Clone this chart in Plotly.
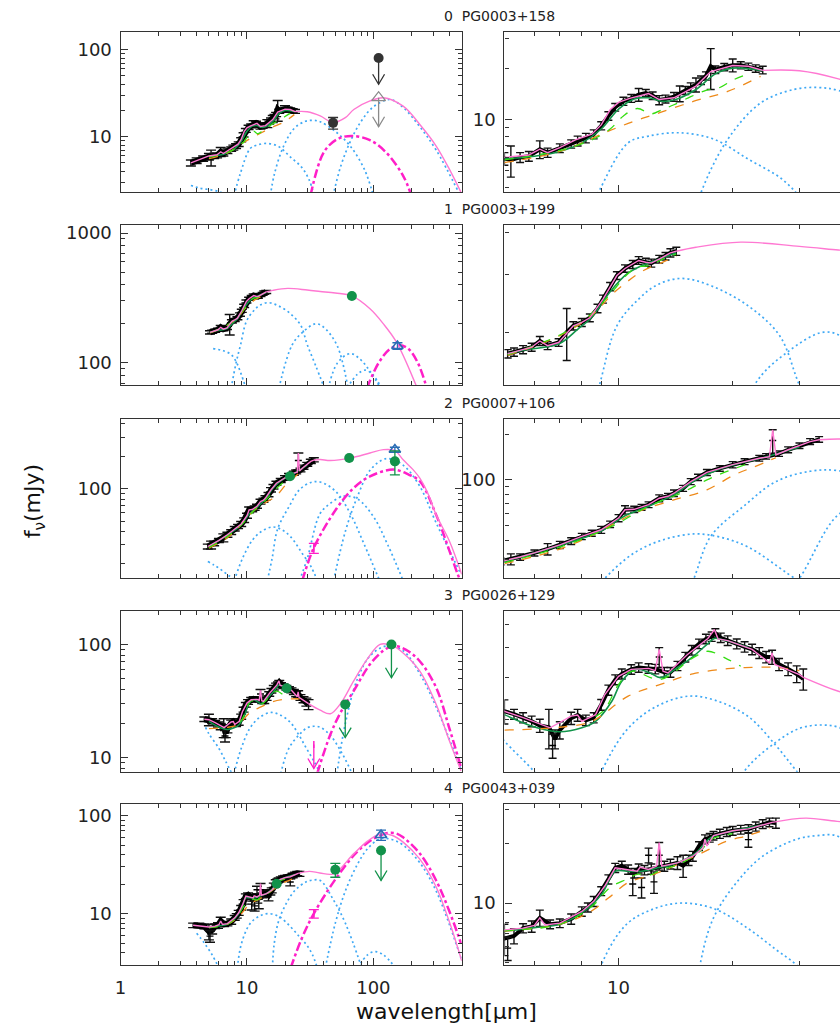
import plotly.graph_objects as go

# ------------------------------------------------------------------ data
titles = ["0  PG0003+158", "1  PG0003+199", "2  PG0007+106", "3  PG0026+129", "4  PG0043+039"]

# ---- object 0 : PG0003+158
spec0_wl = [3.6, 4.0, 4.5, 5.0, 5.2, 5.5, 5.8, 6.2, 6.5, 7.0, 7.5, 7.8, 8.2, 8.6, 9.0, 9.4, 9.8, 10.3, 10.8, 11.3,
            11.8, 12.3, 12.8, 13.3, 14.0, 14.5, 15.0, 15.5, 16.0, 16.5, 17.0, 17.5, 18.0, 19.0, 20.0, 21.0, 22.0, 23.0, 24.0]
spec0_f = [5.0, 5.3, 5.6, 5.9, 5.8, 6.0, 6.1, 6.7, 6.4, 6.8, 7.2, 7.5, 7.8, 8.2, 9.2, 10.5, 11.8, 12.8, 13.3, 14.0,
           14.3, 13.8, 13.0, 13.2, 13.6, 14.2, 14.8, 15.5, 16.0, 17.0, 18.0, 20.5, 19.6, 20.3, 20.8, 20.8, 20.4, 19.9, 19.5]
spec0_err = [0.4, 0.4, 0.4, 0.5, 1.2, 0.4, 0.4, 0.8, 0.4, 0.4, 0.4, 0.5, 0.5, 0.5, 0.5, 0.6, 0.6, 0.7, 0.7, 1.2,
             0.7, 0.7, 0.8, 0.7, 0.8, 1.5, 0.8, 0.9, 1.5, 1.0, 1.0, 5.5, 1.0, 1.0, 1.8, 1.0, 1.0, 1.0, 1.0]
spike0 = ([], [], [])
model0_wl = [3.6, 4.5, 5.0, 5.8, 6.2, 6.5, 7.0, 7.7, 8.5, 9.0, 9.5, 10.0, 10.7, 12.0, 12.8, 14.0, 16.0, 17.5, 20.0,
             22.0, 24.0, 30.0, 38.0, 48.0, 60.0, 70.0, 94.0, 120.0, 172.0, 233.0, 314.0, 400.0, 500.0]
model0_f = [5.0, 5.6, 6.0, 6.2, 6.7, 6.4, 6.84, 7.6, 8.2, 9.3, 11.4, 12.6, 13.3, 14.2, 13.1, 13.4, 15.7, 19.1, 20.7,
            20.5, 19.4, 19.3, 17.3, 14.5, 16.5, 20.5, 25.7, 28.0, 22.4, 13.8, 7.8, 4.2, 2.2]
cont0 = ([5, 7, 9.4, 11.0, 12.9, 15.8, 19.4, 23.7], [5.6, 6.5, 8.55, 9.78, 11.0, 12.8, 14.6, 17.9])
pah0 = ([5, 7, 8.5, 9.5, 10.3, 11.2, 12.2, 13.0, 14, 15.5, 17, 18.5, 20, 22],
        [5.8, 6.6, 7.6, 8.8, 10.5, 11.6, 10.8, 11.4, 12.2, 13.6, 14.8, 15.4, 17.0, 18.5])
fit0 = ([5, 6, 7, 8, 9, 10, 11, 12, 13, 14, 16, 18, 20, 24],
        [5.9, 6.1, 6.5, 7.3, 8.8, 11.5, 13.2, 13.4, 12.8, 13.0, 15.0, 18.5, 20.0, 19.3])
bb0a = ([3.6, 4.3, 5.2, 6.2, 7.0], [2.75, 2.55, 2.45, 2.3, 2.1])
bb0b = ([7.9, 8.85, 10.6, 12, 14.5, 17.9, 22, 27, 31, 34], [2.1, 3.74, 7.3, 8.0, 8.36, 7.65, 5.85, 4.47, 3.2, 2.1])
bb0c = ([15.3, 16.5, 19.4, 23.7, 29, 33.5, 38, 50, 65.6, 85, 100],
        [2.1, 3.74, 7.65, 12.5, 15, 15.4, 14.8, 11.5, 7.8, 4.2, 2.1])
bb0d = ([48, 55, 65, 80, 100, 135, 170, 233, 314, 480], [2.1, 4.5, 8.5, 15, 22, 26.7, 22, 13, 7.0, 2.2])
sb0 = ([31.8, 40.5, 51.5, 67, 94, 126, 172, 200], [2.1, 6.6, 9.3, 10.2, 9.1, 6.6, 3.55, 2.1])
phot0_wl = [48, 110, 110]
phot0_f = [14.4, 80, 28]
phot0_err = [2.2, 0, 0]
phot0_lim = [0, 40, 13]
phot0_kind = ["black", "black", "grey"]

# ---- object 1 : PG0003+199
spec1_wl = [5.1, 5.3, 5.6, 5.9, 6.2, 6.5, 6.95, 7.3, 7.6, 8.0, 8.4, 8.8, 9.1, 9.5, 9.9, 10.4, 10.9, 11.3, 11.8,
            12.2, 12.8, 13.3, 13.7, 14.2]
spec1_f = [172, 174, 177, 180, 188, 182, 186, 200, 209, 214, 221, 236, 252, 275, 297, 312, 321, 330, 326, 324,
           333, 340, 348, 352]
spec1_err = [5, 5, 5, 5, 6, 5, 5, 36, 6, 6, 6, 7, 7, 8, 8, 8, 9, 9, 9, 9, 9, 9, 10, 10]
spike1 = ([], [], [])
model1_wl = [5.1, 5.6, 5.9, 6.2, 6.5, 6.95, 7.6, 8.0, 8.4, 9.1, 9.9, 10.4, 10.9, 11.3, 11.8, 12.2, 12.8, 13.7, 14.2,
             16, 21, 30, 38, 50, 67.6, 94, 120, 152, 218, 300]
model1_f = [172, 177, 180, 188, 182, 186, 209, 214, 221, 252, 297, 312, 321, 330, 326, 324, 333, 348, 352,
            362, 375, 364, 355, 345, 328, 261, 200, 145, 67, 30]
cont1 = ([5.1, 7, 8.5, 9.7, 10.6, 11.6, 13, 14.2], [170, 195, 225, 263, 286, 307, 325, 340])
pah1 = ([5.1, 7, 8.5, 9.7, 10.4, 11.2, 12, 13, 14.2], [171, 196, 228, 268, 295, 315, 318, 332, 345])
fit1 = ([5.1, 5.7, 6.95, 7.8, 8.5, 9.5, 10.5, 11.5, 12.5, 14.2], [172, 177, 184, 204, 222, 265, 300, 318, 330, 348])
bb1a = ([5.4, 6.5, 7.5, 8.3, 9.0, 9.8], [129, 124, 116, 100, 82, 64])
bb1b = ([7.5, 8.2, 8.9, 9.9, 11.3, 12.7, 14.7, 17.6, 22, 26.6, 30, 35, 41],
        [64, 100, 138, 209, 252, 279, 291, 276, 240, 195, 138, 95, 64])
bb1c = ([17.9, 22.8, 27.7, 34.8, 40, 51.5, 63], [64, 138, 173, 200, 190, 137, 64])
bb1d = ([44, 52, 65.6, 80, 95, 114], [64, 100, 118, 105, 85, 64])
bb1e = ([62, 75, 86, 98, 116], [64, 82, 88, 82, 64])
sb1 = ([89, 110, 135, 162, 190, 225, 265], [64, 100, 128, 137, 128, 100, 64])
phot1_wl = [67.6, 155]
phot1_f = [327, 135]
phot1_err = [0, 8]
phot1_lim = [0, 0]
phot1_kind = ["green", "blue"]

# ---- object 2 : PG0007+106
spec2_wl = [4.9, 5.2, 5.5, 6.0, 6.5, 7.0, 7.5, 8.0, 8.5, 9.0, 9.5, 10.0, 10.4, 11.0, 11.5, 12.0, 12.8, 13.5, 14.0,
            14.8, 15.5, 16.2, 17.1, 18.5, 20.0, 21.5, 23.5, 24.5, 26.5, 28.0, 30.0, 32.0, 33.8]
spec2_f = [29, 30, 31, 33, 35, 37.3, 39.5, 42.4, 44.5, 46.9, 51, 56, 63.5, 64, 66, 68.6, 75.7, 78, 81.7,
           88, 97.5, 104, 112, 119, 126, 132, 139, 143, 149, 158, 168, 179, 185]
spec2_err = [1.5, 2.5, 1.5, 1.5, 3, 2, 2, 2, 2, 2.5, 2.5, 3, 4, 3, 3, 3, 4, 3.5, 4,
             4, 4.5, 5, 5, 5, 6, 6, 6, 6, 6, 7, 7, 8, 8]
spike2 = ([25.5], [182], [32])
model2_wl = [4.9, 5.5, 6.0, 7.0, 8.0, 9.0, 10.0, 10.4, 11.0, 12.0, 12.8, 13.5, 14.0, 15.5, 17.1, 20.0, 23.5, 25.0,
             25.5, 26.0, 28.0, 32.0, 33.8, 38.0, 45.7, 65.6, 94.0, 120.0, 148.0, 172.0, 206.0, 233.0, 270.0,
             314.0, 400.0, 500.0]
model2_f = [29, 31, 33, 37.3, 42.4, 46.9, 56, 63.5, 64, 68.6, 75.7, 78, 81.7, 97.5, 112, 126, 139, 142,
            214, 146, 158, 179, 184, 186, 182, 192, 214, 230, 225, 185, 150, 125, 90, 57, 32.5, 16]
cont2 = ([5, 7, 8.5, 9.6, 11.3, 14, 17.1, 20.2, 22.8, 26], [28, 35, 43, 50.6, 62, 73.8, 86, 108, 122, 140])
pah2 = ([5, 7, 9, 10, 11.3, 12.5, 14, 15.5, 17.1, 19, 22], [28.5, 36, 46, 52, 62, 70, 78, 88, 100, 112, 128])
fit2 = ([5, 7, 9, 10.4, 12, 14, 16, 18, 20, 24, 30], [29, 37, 46, 58, 67, 80, 100, 115, 125, 140, 165])
bb2a = ([4.9, 5.5, 6.3, 7.2, 8.2], [21, 19.5, 17.5, 15.5, 14])
bb2b = ([7.95, 9.2, 11, 13, 15.8, 18.5, 22, 28, 32, 36], [14, 22.4, 33, 40, 44, 42, 36, 24, 19, 14])
bb2c = ([14.5, 15.8, 17.5, 21.6, 26, 32, 38, 50, 65, 85, 112], [14, 22.4, 42.4, 68.5, 97.5, 114, 115, 95, 60, 30, 14])
bb2d = ([26, 30, 37.7, 45, 58, 75, 100, 130, 172], [14, 22.4, 58, 72, 85, 80, 55, 30, 14])
bb2e = ([48.5, 60, 75, 95, 127, 172, 233, 314, 494], [14, 40, 85, 150, 190, 165, 105, 48, 16])
sb2 = ([27.4, 33.8, 51.5, 69.7, 94, 144, 190, 233, 314, 465, 500], [14, 28.2, 66, 101, 130, 150, 135, 117, 57, 16, 13])
phot2_wl = [21.9, 64.4, 148, 148, 33.8]
phot2_f = [130, 192, 230, 179, 28]
phot2_err = [0, 0, 12, 45, 3]
phot2_lim = [0, 0, 0, 0, 0]
phot2_kind = ["green", "green", "blue", "green", "sb"]

# ---- object 3 : PG0026+129
spec3_wl = [4.6, 5.0, 5.3, 5.6, 5.9, 6.2, 6.55, 6.8, 7.0, 7.5, 7.8, 8.2, 8.6, 9.0, 9.4, 9.8, 10.2, 10.8, 11.3, 12.0,
            12.5, 13.2, 13.7, 14.3, 15.0, 15.6, 16.3, 17.0, 17.6, 18.0, 18.6, 19.4, 20.5, 21.5, 22.5, 23.5,
            24.5, 25.4, 26.5, 28.0, 29.5, 30.7]
spec3_f = [21.8, 21.6, 21.0, 20.3, 19.6, 18.8, 18.5, 16.5, 18.0, 20.2, 20.8, 19.8, 20.3, 23.0, 26.5, 29.3, 31.0,
           32.4, 33.0, 32.7, 32.5, 31.5, 31.5, 33.5, 36.5, 39.0, 41.5, 43.5, 44.5, 46.0, 44.0, 42.8, 41.5,
           40.3, 39.3, 38.0, 36.5, 36.5, 34.0, 32.5, 31.0, 29.5]
spec3_err = [1.0, 2.5, 1.0, 1.0, 1.0, 1.2, 3.5, 1.5, 1.5, 1.2, 1.2, 1.0, 1.0, 1.2, 1.3, 1.4, 1.5, 1.5, 1.5, 1.5,
             1.5, 1.5, 1.5, 1.5, 1.7, 1.8, 1.9, 2.0, 2.0, 2.0, 2.0, 2.0, 2.0, 2.0, 2.0, 2.0, 2.0, 2.5, 2.0,
             2.0, 2.5, 3.0]
spike3 = ([12.8, 6.7], [36.5, 15.5], [3.5, 1.8])
model3_wl = [4.6, 5.0, 5.6, 6.6, 7.5, 7.8, 8.0, 8.7, 9.2, 10.0, 10.8, 12.0, 12.5, 12.8, 13.1, 13.5, 15.2, 17.2,
             17.9, 18.3, 19.4, 22.5, 25.0, 25.4, 25.8, 30.0, 30.7, 38.0, 45.7, 55.0, 69.7, 90.0, 113.0, 140.0,
             172.0, 233.0, 314.0, 400.0, 494.0]
model3_f = [21.8, 21.6, 20.3, 18.4, 20.6, 20.8, 19.6, 20.9, 25.4, 30.3, 32.4, 32.7, 32.0, 39.3, 31.8, 31.3, 37.4,
            43.7, 47.6, 43.5, 42.8, 39.3, 34.5, 38.0, 34.0, 30.8, 30.0, 26.2, 24.4, 30.0, 47.4, 75.0, 100.0, 98.0,
            84.0, 58.0, 29.5, 14.0, 7.6]
cont3 = ([5, 7, 8.5, 10.6, 12.9, 15.7, 19.4, 22.5, 26, 30], [18, 18.5, 19.6, 25, 28, 31, 32.6, 33, 33, 32])
pah3 = ([8.7, 9.2, 10, 10.8, 12.9, 15.7, 17.2, 19.4, 21], [20.5, 22, 28, 31.8, 29.4, 36.2, 38.6, 35.7, 33.4])
fit3 = ([5.0, 6.1, 7.0, 8.0, 8.7, 9.6, 10.2, 11.1, 12.1, 12.9, 14.3, 15.7, 17.2, 17.9, 19.4, 22],
        [20.9, 18.4, 17.7, 18.4, 19.6, 23.8, 28.9, 32.4, 31.3, 29.9, 33, 36.6, 41.6, 43.7, 42.6, 40])
bb3a = ([4.7, 5.0, 6.0, 6.8, 7.6], [18.5, 16.2, 12, 9.2, 7.2])
bb3b = ([7.9, 9.0, 10.5, 12.5, 15.3, 18, 22, 26, 29.6, 34, 38], [7.2, 12, 18, 22.5, 25, 24, 20.5, 15.5, 12, 9.2, 7.2])
bb3c = ([18.5, 21.4, 26, 30, 33.8, 38, 45, 55, 68], [7.2, 12, 16, 18.3, 18.9, 18.5, 16, 11.5, 7.2])
bb3d = ([51.5, 60, 75, 95, 127, 172, 233, 314, 494], [7.2, 20, 50, 80, 97, 88, 55, 28, 7.8])
sb3 = ([35.9, 45.7, 55, 69.7, 94, 120, 144, 180, 233, 314, 400, 494],
       [7.2, 16, 25, 38.7, 66.7, 88, 97, 90, 71, 41.5, 18, 8.2])
phot3_wl = [20.6, 59.9, 139, 33.8]
phot3_f = [41, 29.5, 100, 13]
phot3_err = [0, 0, 0, 0]
phot3_lim = [0, 15, 50.8, 8]
phot3_kind = ["green", "green", "green", "sb"]

# ---- object 4 : PG0043+039
spec4_wl = [3.75, 4.2, 4.6, 5.0, 5.3, 5.6, 5.9, 6.2, 6.6, 7.0, 7.5, 8.0, 8.3, 8.6, 9.0, 9.4, 9.8, 10.2, 10.6, 11.0,
            11.3, 11.7, 12.2, 13.2, 13.7, 14.3, 14.8, 15.3, 15.7, 16.3, 16.9, 17.4, 17.8, 18.5, 19.3,
            20.0, 21.0, 22.0, 23.0, 24.0, 25.0, 26.0]
spec4_f = [7.6, 7.6, 7.4, 6.6, 6.8, 7.45, 7.6, 8.4, 7.8, 7.9, 8.3, 9.06, 9.5, 10.2, 11.5, 13.2, 15.1, 15.5, 14.8,
           14.2, 15.0, 14.7, 14.9, 15.4, 15.8, 16.0, 15.5, 16.5, 17.3, 19.5, 21.1, 21.5, 22.0, 22.5,
           23.0, 23.3, 23.6, 23.8, 24.5, 25.2, 25.7, 25.5]
spec4_err = [0.4, 0.4, 0.4, 1.2, 0.6, 0.4, 0.5, 0.8, 0.4, 0.4, 0.5, 0.5, 0.5, 0.6, 0.6, 0.7, 0.8, 0.8, 0.8, 0.8,
             0.8, 0.8, 0.9, 0.9, 0.9, 1.2, 2.0, 1.0, 1.0, 1.0, 1.1, 1.1, 1.1, 1.2, 1.2, 1.2, 1.2, 1.2,
             1.3, 1.3, 1.3, 1.5]
spike4 = ([10.9, 11.5, 12.0, 12.4, 12.8, 22.0, 5.1], [12.5, 12.0, 17.5, 12.8, 17.5, 21.0, 5.9], [1.6, 1.4, 1.5, 1.6, 2.8, 1.8, 0.8])
model4_wl = [3.75, 4.6, 5.0, 5.6, 6.0, 6.2, 6.4, 7.0, 8.0, 8.6, 9.2, 9.8, 10.6, 11.2, 11.4, 12.0, 12.6, 12.8, 13.0,
             14.3, 15.7, 16.7, 16.9, 17.1, 17.8, 20.0, 22.0, 25.4, 31.2, 37.7, 48.5, 69.7, 90.0, 113.0, 140.0,
             172.0, 233.0, 314.0, 400.0, 500.0]
model4_f = [7.6, 7.4, 7.3, 7.45, 7.7, 8.4, 7.74, 7.9, 9.06, 10.2, 12.2, 15.1, 14.8, 14.5, 15.2, 14.8, 15.4, 20.3,
            15.4, 16.0, 17.3, 19.0, 21.1, 19.5, 22.0, 23.3, 23.8, 25.7, 27.0, 26.0, 25.5, 40.7, 55.0, 65.0, 63.0,
            53.6, 36.0, 18.7, 8.2, 3.3]
cont4 = ([5, 7, 8.4, 9.4, 10.6, 12.4, 14, 16.3, 19.4, 21.9, 25], [7.2, 7.8, 9.0, 10.6, 12.7, 14.0, 15.4, 17.7, 20.7, 22, 24])
pah4 = ([5, 7, 8.5, 9.5, 10.5, 11.2, 12, 13, 14.5, 16.5, 17.5, 20],
        [7.25, 7.8, 9.6, 12, 13.2, 14, 13.8, 14.8, 15.8, 18.5, 21, 22.5])
fit4 = ([5, 6, 7, 8, 9, 9.8, 10.5, 11.5, 12.5, 14, 16, 17.5, 20, 24],
        [7.2, 7.5, 7.8, 8.9, 11.0, 14.5, 14.5, 14.5, 15, 15.8, 18, 21.5, 23.2, 25])
bb4a = ([4.0, 4.6, 5.3, 6.0], [6.3, 5.0, 3.8, 2.8])
bb4b = ([8.4, 9.0, 10.5, 12.5, 14.8, 18, 22, 26, 29.5, 33, 36], [2.8, 4.83, 7.8, 9.4, 10, 9.3, 7.4, 5.8, 4.83, 3.8, 2.8])
bb4c = ([15.9, 16.4, 17.8, 20.6, 24, 29.5, 33.3, 38, 48, 60, 81], [2.8, 4.83, 8.4, 12.9, 17.3, 21.1, 22, 21.8, 14, 8, 2.8])
bb4d = ([41.7, 50, 60, 75, 90, 113, 140, 172, 233, 314, 494], [2.8, 8, 17, 32, 46, 58, 57, 50, 33, 17, 3.5])
bb4e = ([75, 90, 103, 120, 150], [2.8, 3.8, 4.1, 3.8, 2.8])
sb4 = ([22.2, 27, 33.8, 51.5, 74, 100, 127, 150, 172, 233, 314, 400, 494],
       [2.8, 5.5, 10, 23.6, 42.4, 58, 66, 66, 60, 41, 21.8, 10.5, 4.95])
phot4_wl = [17.2, 50, 115, 115, 33.8]
phot4_f = [20.2, 28, 63.5, 44, 10]
phot4_err = [0, 4.5, 7.5, 0, 1]
phot4_lim = [0, 0, 0, 21.8, 0]
phot4_kind = ["green", "green", "blue", "green", "sb"]

objects = [
    dict(spec=(spec0_wl, spec0_f, spec0_err), spike=spike0, model=(model0_wl, model0_f), cont=cont0, pah=pah0,
         fit=fit0, bbs=[bb0a, bb0b, bb0c, bb0d], sb=sb0,
         phot=(phot0_wl, phot0_f, phot0_err, phot0_lim, phot0_kind)),
    dict(spec=(spec1_wl, spec1_f, spec1_err), spike=spike1, model=(model1_wl, model1_f), cont=cont1, pah=pah1,
         fit=fit1, bbs=[bb1a, bb1b, bb1c, bb1d, bb1e], sb=sb1,
         phot=(phot1_wl, phot1_f, phot1_err, phot1_lim, phot1_kind)),
    dict(spec=(spec2_wl, spec2_f, spec2_err), spike=spike2, model=(model2_wl, model2_f), cont=cont2, pah=pah2,
         fit=fit2, bbs=[bb2a, bb2b, bb2c, bb2d, bb2e], sb=sb2,
         phot=(phot2_wl, phot2_f, phot2_err, phot2_lim, phot2_kind)),
    dict(spec=(spec3_wl, spec3_f, spec3_err), spike=spike3, model=(model3_wl, model3_f), cont=cont3, pah=pah3,
         fit=fit3, bbs=[bb3a, bb3b, bb3c, bb3d], sb=sb3,
         phot=(phot3_wl, phot3_f, phot3_err, phot3_lim, phot3_kind)),
    dict(spec=(spec4_wl, spec4_f, spec4_err), spike=spike4, model=(model4_wl, model4_f), cont=cont4, pah=pah4,
         fit=fit4, bbs=[bb4a, bb4b, bb4c, bb4d, bb4e], sb=sb4,
         phot=(phot4_wl, phot4_f, phot4_err, phot4_lim, phot4_kind)),
]

# ------------------------------------------------------------------ layout geometry / styles
W, H = 840, 1028
col_px = [(115.4, 459.0), (502.0, 840.0)]
row_px = [(29, 190), (223, 383), (417, 577), (610, 771), (803, 965)]
x_ranges = [[0.0, 2.699], [0.699, 1.584]]
y_ranges = [
    [[0.359, 2.203], [0.573, 1.513]],
    [[1.831, 3.059], [2.141, 2.625]],
    [[1.167, 2.648], [1.351, 2.403]],
    [[0.874, 2.294], [1.080, 1.755]],
    [[0.474, 2.122], [0.684, 1.505]],
]

PINK = "#ff78d2"
MAG = "#ff1fc8"
BLUE = "#3fa9f5"
ORANGE = "#ee8a1a"
LIME = "#33dd11"
DKGREEN = "#12944a"
GREEN = "#12924a"
AXC = "#333333"
FONT = "DejaVu Sans"

kind_style = {
    "black": dict(symbol="circle", size=10, color="#333333", lw=0),
    "grey": dict(symbol="triangle-up-open", size=12, color="#8a8a8a", lw=1.3),
    "green": dict(symbol="circle", size=10, color=GREEN, lw=0),
    "blue": dict(symbol="triangle-up-open", size=10, color="#2a6db5", lw=1.6),
    "sb": dict(symbol="line-ns-open", size=5, color=MAG, lw=1.5),
}

fig = go.Figure()


def axnames(idx):
    return ("x" if idx == 1 else f"x{idx}", "y" if idx == 1 else f"y{idx}")


def curve(xy, xa, ya, color, width, dash=None, shape="spline"):
    line = dict(color=color, width=width, shape=shape)
    if dash:
        line["dash"] = dash
    if shape == "spline":
        line["smoothing"] = 1.0
    fig.add_trace(go.Scatter(x=list(xy[0]), y=list(xy[1]), mode="lines", line=line,
                             xaxis=xa, yaxis=ya, hoverinfo="skip", showlegend=False))


for r, ob in enumerate(objects):
    for c in range(2):
        idx = 2 * r + c + 1
        xa, ya = axnames(idx)
        xdec = (col_px[c][1] - col_px[c][0]) / (x_ranges[c][1] - x_ranges[c][0])
        ydec = (row_px[r][1] - row_px[r][0]) / (y_ranges[r][c][1] - y_ranges[r][c][0])

        swl, sf, serr = ob["spec"]
        # spectrum: thick black band + error bars
        fig.add_trace(go.Scatter(x=swl, y=sf, mode="lines",
                                 line=dict(color="black", width=(6 if c == 0 else 4)),
                                 error_y=dict(type="data", array=serr, color="#111111", thickness=1.4,
                                              width=(5 if c == 0 else 4)),
                                 xaxis=xa, yaxis=ya, hoverinfo="skip", showlegend=False))
        kwl, kf, kerr = ob["spike"]
        if kwl:
            fig.add_trace(go.Scatter(x=kwl, y=kf, mode="markers",
                                     marker=dict(symbol="line-ew-open", size=5, color="black",
                                                 line=dict(color="black", width=1.4)),
                                     error_y=dict(type="data", array=kerr, color="#111111", thickness=1.4,
                                                  width=(5 if c == 0 else 4)),
                                     xaxis=xa, yaxis=ya, hoverinfo="skip", showlegend=False))
        # decomposition
        curve(ob["fit"], xa, ya, DKGREEN, 1.6)
        curve(ob["cont"], xa, ya, ORANGE, 1.3, dash="dash")
        curve(ob["pah"], xa, ya, LIME, 1.3, dash="dash")
        for bb in ob["bbs"]:
            curve(bb, xa, ya, BLUE, 1.7, dash="2px,3px")
        if c == 0:
            curve(ob["sb"], xa, ya, MAG, 2.5, dash="dashdot")
        # total model: detailed (linear) over the spectrum, smooth beyond
        mwl, mf = ob["model"]
        smax = max(swl)
        k = max(i for i, w in enumerate(mwl) if w <= smax)
        curve((mwl[:k + 1], mf[:k + 1]), xa, ya, PINK, 1.4, shape="linear")
        curve((mwl[k:], mf[k:]), xa, ya, PINK, 1.4, shape="spline")

        if c == 1:
            continue
        # photometry (full-SED panels only)
        pwl, pf, perr, plim, pkind = ob["phot"]
        for w, f, e, lim, kd in zip(pwl, pf, perr, plim, pkind):
            st = kind_style[kd]
            if lim:
                ax_ = 6.0 / xdec
                ay_ = 10.0 / ydec
                xs = [w, w, None, w * 10 ** (-ax_), w, w * 10 ** ax_]
                ys = [f, lim, None, lim * 10 ** ay_, lim, lim * 10 ** ay_]
                fig.add_trace(go.Scatter(x=xs, y=ys, mode="lines", line=dict(color=st["color"], width=1.3),
                                         xaxis=xa, yaxis=ya, hoverinfo="skip", showlegend=False))
            mk = dict(symbol=st["symbol"], size=st["size"], color=st["color"],
                      line=dict(color=st["color"], width=st["lw"]))
            tr = dict(x=[w], y=[f], mode="markers", marker=mk, xaxis=xa, yaxis=ya,
                      hoverinfo="skip", showlegend=False)
            if e:
                tr["error_y"] = dict(type="data", array=[e], color=st["color"], thickness=1.3, width=5)
            fig.add_trace(go.Scatter(**tr))

# axes
layout = {}
for r in range(5):
    for c in range(2):
        idx = 2 * r + c + 1
        xa, ya = axnames(idx)
        xkey = "xaxis" if idx == 1 else f"xaxis{idx}"
        ykey = "yaxis" if idx == 1 else f"yaxis{idx}"
        common = dict(type="log", showgrid=False, zeroline=False, ticks="inside", ticklen=7, tickwidth=1,
                      tickcolor=AXC, showline=True, linecolor=AXC, linewidth=1.3, dtick=1,
                      exponentformat="none",
                      minor=dict(ticks="inside", ticklen=4, tickwidth=1, tickcolor=AXC, dtick="D1", showgrid=False),
                      tickfont=dict(family=FONT, size=18, color="#222222"))
        layout[xkey] = dict(common, range=x_ranges[c],
                            domain=[col_px[c][0] / W, col_px[c][1] / W], anchor=ya,
                            mirror="ticks", showticklabels=(r == 4), ticklabelstandoff=6)
        layout[ykey] = dict(common, range=y_ranges[r][c],
                            domain=[1 - row_px[r][1] / H, 1 - row_px[r][0] / H], anchor=xa,
                            mirror=("ticks" if c == 0 else False), ticklabelstandoff=4)

annotations = []
for r in range(5):
    annotations.append(dict(text=titles[r], x=497 / W, y=1 - (row_px[r][0] - 16) / H, xref="paper", yref="paper",
                            showarrow=False, xanchor="center", yanchor="middle",
                            font=dict(family=FONT, size=14, color="#222222")))
annotations.append(dict(text="wavelength[μm]", x=443.5 / W, y=1 - 1011 / H, xref="paper", yref="paper",
                        showarrow=False, xanchor="center", yanchor="middle",
                        font=dict(family=FONT, size=22, color="#111111")))
annotations.append(dict(text="f<sub>ν</sub>(mJy)", x=29 / W, y=1 - 500 / H, xref="paper", yref="paper",
                        showarrow=False, xanchor="center", yanchor="middle", textangle=-90,
                        font=dict(family=FONT, size=22, color="#111111")))

fig.update_layout(width=W, height=H, margin=dict(l=0, r=0, t=0, b=0), paper_bgcolor="white",
                  plot_bgcolor="white", showlegend=False, annotations=annotations, **layout)

fig.write_html("out.html", config={"displayModeBar": False},
               post_script="document.body.style.margin='0';document.body.style.padding='0';"
                           "document.body.style.overflow='hidden';"
                           "document.documentElement.style.overflow='hidden';")
